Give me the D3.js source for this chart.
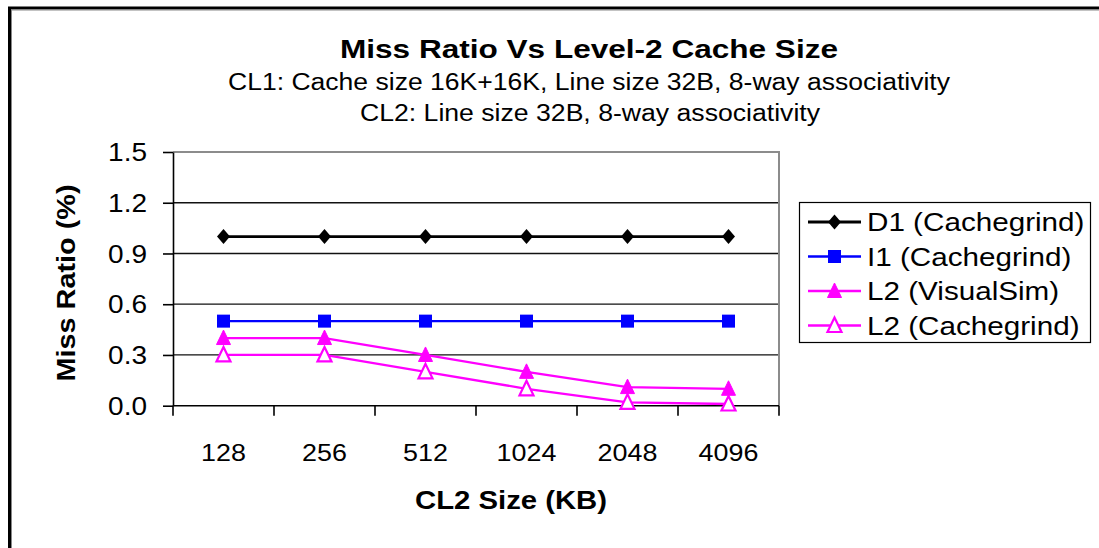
<!DOCTYPE html>
<meta charset="utf-8">
<style>
body{margin:0;background:#fff;}
text{font-family:"Liberation Sans",Arial,sans-serif;fill:#000;}
.grid line{stroke:#111;stroke-width:1.3px;}
.axis path,.axis line{stroke:#000;stroke-width:1.6px;}
</style>
<body>
<script src="https://d3js.org/d3.v7.min.js"></script>
<script>

var sizes = ["128", "256", "512", "1024", "2048", "4096"];
var d1Cachegrind = [1.0, 1.0, 1.0, 1.0, 1.0, 1.0];
var i1Cachegrind = [0.5, 0.5, 0.5, 0.5, 0.5, 0.5];
var l2VisualSim = [0.4, 0.4, 0.3, 0.2, 0.11, 0.1];
var l2Cachegrind = [0.3, 0.3, 0.2, 0.1, 0.02, 0.01];
var yTicks = [0, 0.3, 0.6, 0.9, 1.2, 1.5];

var series = [
	{name: "D1 (Cachegrind)", values: d1Cachegrind, color: "#000", width: 2.8, marker: "diamond"},
	{name: "I1 (Cachegrind)", values: i1Cachegrind, color: "#0000ff", width: 2.3, marker: "square"},
	{name: "L2 (VisualSim)", values: l2VisualSim, color: "#ff00ff", width: 2.3, marker: "triangle"},
	{name: "L2 (Cachegrind)", values: l2Cachegrind, color: "#ff00ff", width: 2.3, marker: "triangleOpen"}
];

var W = 1099, H = 548;
var pLeft = 173, pRight = 779, pTop = 152, pBottom = 405.7;

var svg = d3.select("body").append("svg").attr("width", W).attr("height", H);

// outer frame (only left/top edges visible)
svg.append("rect").attr("x", 9.5).attr("y", 8).attr("width", W + 20).attr("height", H + 20)
	.attr("fill", "none").attr("stroke", "#000").attr("stroke-width", 3);
svg.append("rect").attr("x", 11.5).attr("y", 10).attr("width", W + 20).attr("height", H + 20)
	.attr("fill", "none").attr("stroke", "#888").attr("stroke-width", 1);

// stretch a text horizontally to a target width
function fit(sel, w){
	sel.each(function(){
		this.setAttribute("textLength", w);
		this.setAttribute("lengthAdjust", "spacingAndGlyphs");
	});
	return sel;
}
function stretch(sel, k){
	sel.each(function(){
		var l = this.getComputedTextLength();
		this.setAttribute("textLength", l * k);
		this.setAttribute("lengthAdjust", "spacingAndGlyphs");
	});
	return sel;
}

// titles
fit(svg.append("text").attr("x", 589).attr("y", 58).attr("text-anchor", "middle")
	.style("font-size", "26px").style("font-weight", "bold").text("Miss Ratio Vs Level-2 Cache Size"), 498);
fit(svg.append("text").attr("x", 589).attr("y", 90).attr("text-anchor", "middle")
	.style("font-size", "23px").text("CL1: Cache size 16K+16K, Line size 32B, 8-way associativity"), 722);
fit(svg.append("text").attr("x", 590).attr("y", 121).attr("text-anchor", "middle")
	.style("font-size", "23px").text("CL2: Line size 32B, 8-way associativity"), 460);

var x = d3.scaleBand().domain(sizes).range([pLeft, pRight]).padding(0);
var y = d3.scaleLinear().domain([0, 1.5]).range([pBottom, pTop]);

// gridlines
svg.append("g").attr("class", "grid")
	.selectAll("line").data(yTicks.filter(function(t){ return t > 0 && t < 1.5; }))
	.enter().append("line")
	.attr("x1", pLeft).attr("x2", pRight)
	.attr("y1", function(d){ return y(d); }).attr("y2", function(d){ return y(d); });

// plot area border top/right (gray)
svg.append("path").attr("d", "M" + pLeft + "," + pTop + "H" + pRight + "V" + pBottom)
	.attr("fill", "none").attr("stroke", "#8c8c8c").attr("stroke-width", 2);

// y axis
var yAxis = svg.append("g").attr("class", "axis").attr("transform", "translate(" + pLeft + ",0)")
	.call(d3.axisLeft(y).tickValues(yTicks).tickSize(10).tickPadding(16).tickFormat(d3.format(".1f")).tickSizeOuter(0));
yAxis.selectAll("text").style("font-size", "25px").attr("dy", "0.35em");
stretch(yAxis.selectAll("text"), 1.12);

// x axis with ticks between categories
var xAxis = svg.append("g").attr("class", "axis").attr("transform", "translate(0," + pBottom + ")");
xAxis.append("line").attr("x1", pLeft).attr("x2", pRight).attr("y1", 0).attr("y2", 0);
var bounds = sizes.map(function(s){ return x(s); }).concat([pRight]);
xAxis.selectAll(".tk").data(bounds).enter().append("line").attr("class", "tk")
	.attr("x1", function(d){ return d; }).attr("x2", function(d){ return d; })
	.attr("y1", 0).attr("y2", 10);
var xl = xAxis.selectAll(".lbl").data(sizes).enter().append("text").attr("class", "lbl")
	.attr("x", function(d){ return x(d) + x.bandwidth() / 2; })
	.attr("y", 55).attr("text-anchor", "middle").style("font-size", "24px")
	.text(function(d){ return d; });
stretch(xl, 1.12);

// axis titles
fit(svg.append("text").attr("x", 511).attr("y", 509).attr("text-anchor", "middle")
	.style("font-size", "25px").style("font-weight", "bold").text("CL2 Size (KB)"), 192);
fit(svg.append("text").attr("transform", "translate(75,283) rotate(-90)").attr("text-anchor", "middle")
	.style("font-size", "25px").style("font-weight", "bold").text("Miss Ratio (%)"), 197);

// markers
function drawMarker(g, type, cx, cy, color){
	if (type == "diamond"){
		g.append("path").attr("d", "M" + cx + "," + (cy - 7.5) + "L" + (cx + 6.5) + "," + cy + "L" + cx + "," + (cy + 7.5) + "L" + (cx - 6.5) + "," + cy + "Z")
			.attr("fill", color);
	} else if (type == "square"){
		g.append("rect").attr("x", cx - 6.5).attr("y", cy - 6.5).attr("width", 13).attr("height", 13).attr("fill", color);
	} else {
		var open = type == "triangleOpen";
		g.append("path").attr("d", "M" + cx + "," + (cy - 8) + "L" + (cx + 7) + "," + (cy + 6.5) + "L" + (cx - 7) + "," + (cy + 6.5) + "Z")
			.attr("fill", open ? "#fff" : color).attr("stroke", color).attr("stroke-width", open ? 2.2 : 1);
	}
}

var line = d3.line()
	.x(function(d, i){ return x(sizes[i]) + x.bandwidth() / 2; })
	.y(function(d){ return y(d); });

series.forEach(function(s){
	var g = svg.append("g");
	g.append("path").attr("d", line(s.values)).attr("fill", "none")
		.attr("stroke", s.color).attr("stroke-width", s.width);
	s.values.forEach(function(v, i){
		drawMarker(g, s.marker, x(sizes[i]) + x.bandwidth() / 2, y(v), s.color);
	});
});

// legend
var lg = svg.append("g").attr("transform", "translate(799,202)");
lg.append("rect").attr("x", 0.5).attr("y", 0.5).attr("width", 291).attr("height", 140)
	.attr("fill", "#fff").attr("stroke", "#000").attr("stroke-width", 1.2);
series.forEach(function(s, i){
	var cy = 20 + i * 34.5;
	var e = lg.append("g");
	e.append("line").attr("x1", 9).attr("x2", 62).attr("y1", cy).attr("y2", cy)
		.attr("stroke", s.color).attr("stroke-width", s.width);
	drawMarker(e, s.marker, 35.5, cy, s.color);
	var t = e.append("text").attr("x", 68).attr("y", cy).attr("dy", "0.36em")
		.style("font-size", "26px").text(s.name);
	stretch(t, 1.14);
});

</script>
</body>
</html>
